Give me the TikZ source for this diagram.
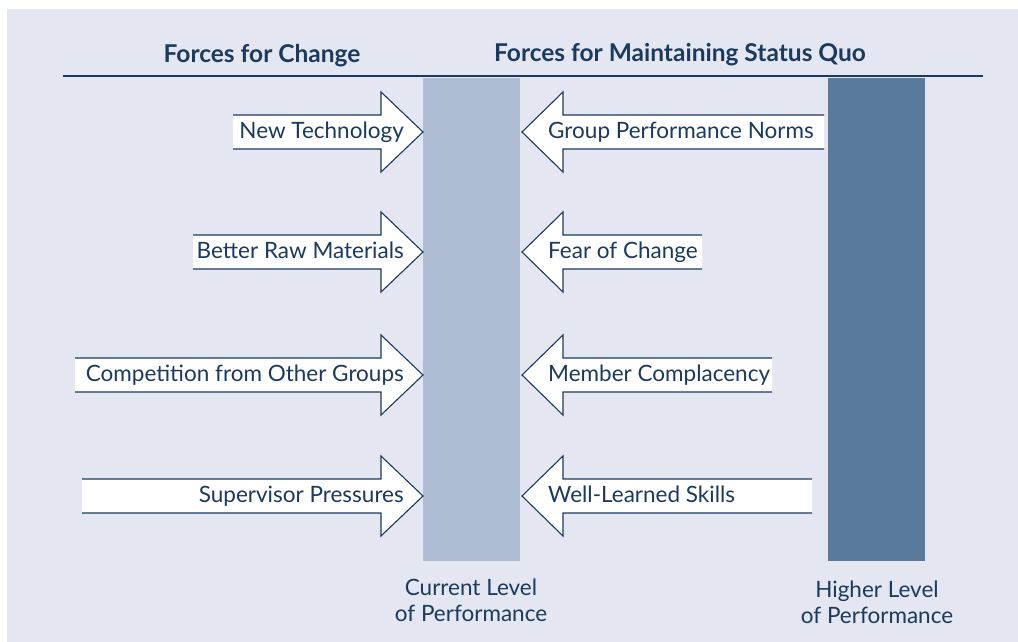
\documentclass[tikz,border=0pt]{standalone}
\usepackage{fontspec}
\setmainfont{Lato}
\usepackage{tikz}
\definecolor{navy}{HTML}{1B3A5E}
\definecolor{bgblue}{HTML}{E4E7F1}
\definecolor{curbar}{HTML}{AFBDD4}
\definecolor{highbar}{HTML}{5A7A9C}
\tikzset{
  forcearrow/.style={fill=white,draw=navy,line width=1.1pt,line join=miter},
  forcetext/.style={text=navy,inner sep=0pt,font=\fontsize{22.5}{26}\selectfont},
  headtext/.style={text=navy,inner sep=0pt,font=\bfseries\fontsize{24.5}{28}\selectfont},
  leveltext/.style={text=navy,inner sep=0pt,align=center,font=\fontsize{22.5}{26}\selectfont}
}

\begin{document}
\begin{tikzpicture}[x=1pt,y=-1pt]
  \useasboundingbox (0,0) rectangle (1018,642);
  \fill[bgblue] (7,9) rectangle (1018,642);
  \draw[navy,line width=1.5pt] (63,76) -- (983,76);
  \node[headtext,anchor=base] (hchange) at (262,63) {Forces for Change};
  \node[headtext,anchor=base] (hstatus) at (680,62) {Forces for Maintaining Status Quo};
  \fill[curbar] (423,78) rectangle (520,561);
  \fill[highbar] (828,78) rectangle (925,561);
  \node[leveltext,anchor=north] (current) at (471,579) {Current Level\\of Performance};
  \node[leveltext,anchor=north] (higher) at (877,581) {Higher Level\\of Performance};
  % forces for change
  \foreach \y/\tail/\name/\txt in {132/233/newtech/New Technology,252/193/rawmat/Better Raw Materials,
      375/75/compet/Competition from Other Groups,496/82/superv/Supervisor Pressures}
  {
    \filldraw[forcearrow] (\tail,\y-17) -- (381,\y-17) -- (381,\y-40) -- (423,\y)
      -- (381,\y+40) -- (381,\y+17) -- (\tail,\y+17);
    \node[forcetext,anchor=base east] (\name) at (404,\y+6) {\txt};
  }
  % forces for status quo
  \foreach \y/\tail/\name/\txt in {132/824/norms/Group Performance Norms,252/702/fear/Fear of Change,
      375/772/compla/Member Complacency,496/812/skills/Well-Learned Skills}
  {
    \filldraw[forcearrow] (\tail,\y-17) -- (563,\y-17) -- (563,\y-40) -- (522,\y)
      -- (563,\y+40) -- (563,\y+17) -- (\tail,\y+17);
    \node[forcetext,anchor=base west] (\name) at (548,\y+6) {\txt};
  }
\end{tikzpicture}
\end{document}
